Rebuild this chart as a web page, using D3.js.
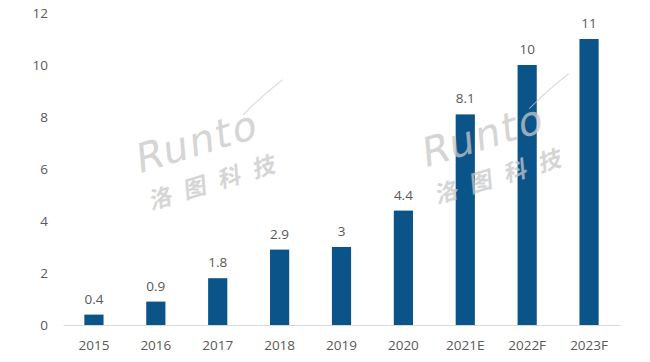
<!DOCTYPE html>
<html>
<head>
<meta charset="utf-8">
<script src="https://cdn.jsdelivr.net/npm/d3@7"></script>
<style>
  body { margin: 0; background: #fff; }
  svg { display: block; font-family: "Open Sans", "Liberation Sans", sans-serif; }
</style>
</head>
<body>
<svg id="chart" width="650" height="362"></svg>
<script>
'use strict';
const years = ['2015', '2016', '2017', '2018', '2019', '2020', '2021E', '2022F', '2023F'];
const values = [0.4, 0.9, 1.8, 2.9, 3, 4.4, 8.1, 10, 11];
const yTicks = [0, 2, 4, 6, 8, 10, 12];

const svg = d3.select('#chart');
const plotL = 63, plotR = 620, plotT = 13, plotB = 325;
const textCol = '#595959';
const barCol = '#0B5489';

const x = d3.scaleBand()
  .domain(years)
  .range([plotL, plotR])
  .paddingInner(0.69)
  .paddingOuter(0.345);

const y = d3.scaleLinear()
  .domain([0, 12])
  .range([plotB, plotT]);

// y labels (no axis line, no gridlines)
svg.append('g')
  .selectAll('text')
  .data(yTicks)
  .join('text')
  .attr('x', 48)
  .attr('y', d => y(d))
  .attr('dy', '0.35em')
  .attr('text-anchor', 'end')
  .attr('font-size', 13.5)
  .attr('fill', textCol)
  .text(d => d);

// bars
svg.append('g')
  .selectAll('rect')
  .data(values)
  .join('rect')
  .attr('x', (d, i) => x(years[i]))
  .attr('y', d => y(d))
  .attr('width', x.bandwidth())
  .attr('height', d => y(0) - y(d))
  .attr('fill', barCol);

// x axis line + labels
const xAxis = svg.append('g')
  .attr('transform', `translate(0,${plotB})`)
  .call(d3.axisBottom(x).tickSize(0).tickPadding(15));
xAxis.select('.domain').attr('stroke', '#d9d9d9').attr('stroke-width', 1);
xAxis.selectAll('text')
  .attr('font-size', 13.5)
  .attr('font-family', '"Open Sans", sans-serif')
  .attr('fill', textCol);

// value labels
svg.append('g')
  .selectAll('text')
  .data(values)
  .join('text')
  .attr('x', (d, i) => x(years[i]) + x.bandwidth() / 2)
  .attr('y', d => y(d) - 11)
  .attr('text-anchor', 'middle')
  .attr('font-size', 13.5)
  .attr('fill', textCol)
  .text(d => d);

// watermarks
const marks = [[138, 174], [424, 168]];
marks.forEach(([mx, my]) => {
  const g = svg.append('g')
    .attr('transform', `translate(${mx},${my}) rotate(-17)`)
    .attr('fill', '#c8c8c8')
    .attr('opacity', 0.75);
  g.append('text')
    .attr('transform', 'skewX(-12)')
    .attr('x', 0).attr('y', 0)
    .attr('font-size', 40)
    .attr('letter-spacing', 2)
    .attr('font-family', '"DejaVu Sans", sans-serif')
    .text('Runto');
  g.append('path')
    .attr('d', 'M118,-26 Q140,-38 166,-48')
    .attr('stroke', '#c8c8c8')
    .attr('stroke-width', 1)
    .attr('fill', 'none');
  g.append('text')
    .attr('transform', 'skewX(-12)')
    .attr('x', 10).attr('y', 38)
    .attr('font-size', 23)
    .attr('font-weight', 700)
    .attr('letter-spacing', 13)
    .attr('font-family', '"Noto Sans CJK SC", sans-serif')
    .text('洛图科技');
});
</script>
</body>
</html>
